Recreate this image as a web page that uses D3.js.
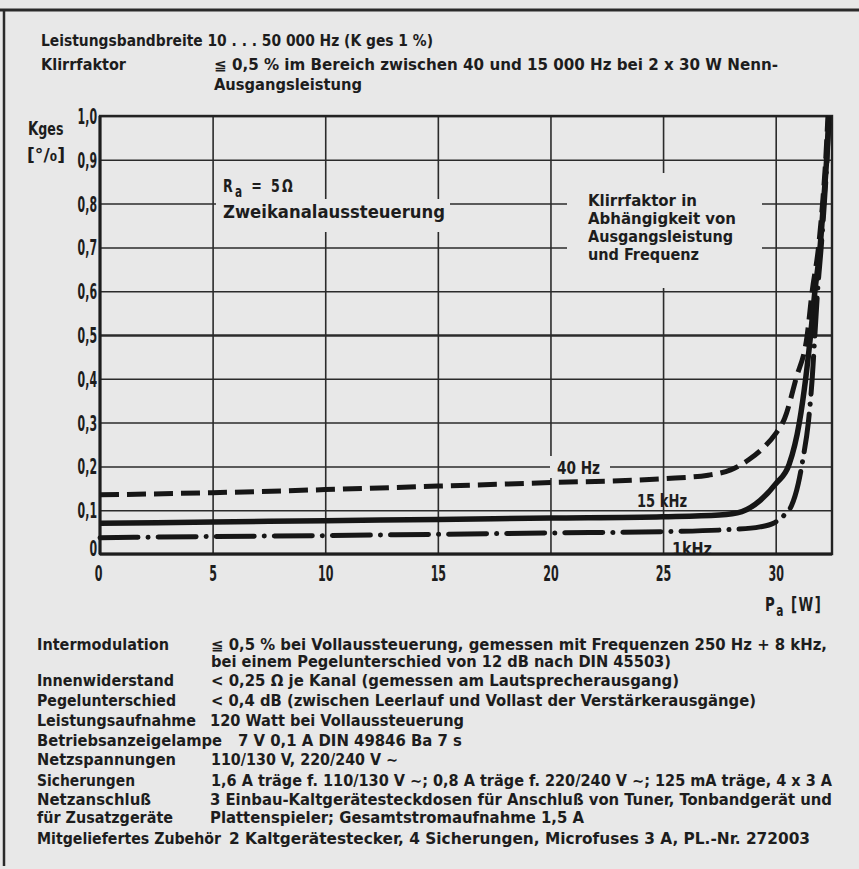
<!DOCTYPE html>
<html>
<head>
<meta charset="utf-8">
<script src="https://cdn.jsdelivr.net/npm/d3@7"></script>
<style>
  body { margin: 0; background: #e8e8e8; }
  svg { display: block; }
  text { font-family: "DejaVu Sans Condensed", "DejaVu Sans", "Roboto", sans-serif; fill: #1d1d1d; }
</style>
</head>
<body>
<div id="chart"></div>
<script>
// Values: x = Pa [W], y = Kges [%]
const powerTicks = [0, 5, 10, 15, 20, 25, 30];
const kgesTicks = [0, 0.1, 0.2, 0.3, 0.4, 0.5, 0.6, 0.7, 0.8, 0.9, 1.0];

const curve40Hz = [
    [0, 0.135], [5, 0.14], [10, 0.147], [15, 0.155], [20, 0.163], [25, 0.172],
    [27, 0.18], [28, 0.192], [28.8, 0.215], [29.5, 0.245], [30, 0.275], [30.4, 0.31],
    [30.9, 0.4], [31.4, 0.5], [31.62, 0.6], [31.9, 0.7], [32.08, 0.8], [32.22, 0.9], [32.32, 1.0]
];
const curve15kHz = [
    [0, 0.07], [5, 0.073], [10, 0.076], [15, 0.079], [20, 0.082], [25, 0.085],
    [27.5, 0.089], [28.5, 0.097], [29.3, 0.122], [30.0, 0.16], [30.6, 0.205], [31.05, 0.3],
    [31.33, 0.4], [31.55, 0.5], [31.74, 0.6], [31.97, 0.7], [32.12, 0.8], [32.26, 0.9], [32.36, 1.0]
];
const curve1kHz = [
    [0, 0.037], [5, 0.04], [10, 0.042], [15, 0.045], [20, 0.048], [25, 0.051],
    [28, 0.056], [29.3, 0.062], [29.9, 0.07], [30.4, 0.09], [30.7, 0.11], [31.0, 0.16],
    [31.22, 0.22], [31.45, 0.3], [31.62, 0.4], [31.74, 0.5], [31.86, 0.6], [32.02, 0.7],
    [32.16, 0.8], [32.28, 0.9], [32.38, 1.0]
];
const curveNames = ['40 Hz', '15 kHz', '1kHz'];

const headLabels = ['Leistungsbandbreite 10 . . . 50 000 Hz (K ges 1 %)', 'Klirrfaktor', ''];
const headValues = ['', '≦ 0,5 % im Bereich zwischen 40 und 15 000 Hz bei 2 x 30 W Nenn-', 'Ausgangsleistung'];

const specLabels = [
    'Intermodulation', '', 'Innenwiderstand', 'Pegelunterschied', 'Leistungsaufnahme',
    'Betriebsanzeigelampe', 'Netzspannungen', 'Sicherungen', 'Netzanschluß',
    'für Zusatzgeräte', 'Mitgeliefertes Zubehör'
];
const specValues = [
    '≦ 0,5 % bei Vollaussteuerung, gemessen mit Frequenzen 250 Hz + 8 kHz,',
    'bei einem Pegelunterschied von 12 dB nach DIN 45503)',
    '< 0,25 Ω je Kanal (gemessen am Lautsprecherausgang)',
    '< 0,4 dB (zwischen Leerlauf und Vollast der Verstärkerausgänge)',
    '120 Watt bei Vollaussteuerung',
    '7 V 0,1 A DIN 49846 Ba 7 s',
    '110/130 V, 220/240 V ∼',
    '1,6 A träge f. 110/130 V ∼; 0,8 A träge f. 220/240 V ∼; 125 mA träge, 4 x 3 A',
    '3 Einbau-Kaltgerätesteckdosen für Anschluß von Tuner, Tonbandgerät und',
    'Plattenspieler; Gesamtstromaufnahme 1,5 A',
    '2 Kaltgerätestecker, 4 Sicherungen, Microfuses 3 A, PL.-Nr. 272003'
];

const rightNote = ['Klirrfaktor in', 'Abhängigkeit von', 'Ausgangsleistung', 'und Frequenz'];

// layout (baselines / widths measured on the scan)
const headLayout = [
    { y: 46, lw: 392, vx: 214, vw: 0 },
    { y: 70, lw: 85, vx: 214, vw: 564 },
    { y: 90, lw: 0, vx: 214, vw: 148 }
];
const specLayout = [
    { y: 650, lw: 132, vx: 211, vw: 616 },
    { y: 667, lw: 0, vx: 211, vw: 460 },
    { y: 686, lw: 137, vx: 211, vw: 468 },
    { y: 706, lw: 139, vx: 211, vw: 545 },
    { y: 726, lw: 159, vx: 210, vw: 254 },
    { y: 746, lw: 185, vx: 238, vw: 224 },
    { y: 765, lw: 139, vx: 211, vw: 187 },
    { y: 786, lw: 98, vx: 211, vw: 621 },
    { y: 805, lw: 114, vx: 210, vw: 622 },
    { y: 823, lw: 136, vx: 210, vw: 374 },
    { y: 844, lw: 184, vx: 229, vw: 581 }
];

const W = 859, H = 869;
const paper = '#e8e8e8';
const svg = d3.select('#chart').append('svg')
    .attr('width', W)
    .attr('height', H);

svg.append('rect').attr('width', W).attr('height', H).attr('fill', paper);

// page edges of the scan
svg.append('line').attr('x1', 0).attr('x2', W).attr('y1', 10).attr('y2', 10)
    .attr('stroke', '#2a2a2a').attr('stroke-width', 3);
svg.append('line').attr('x1', 4).attr('x2', 4).attr('y1', 10).attr('y2', 866)
    .attr('stroke', '#2a2a2a').attr('stroke-width', 2.5);

// text helper, squeezes a line to the measured width
function putText(g, str, x, y, size, len, weight) {
    const t = g.append('text')
        .attr('x', x)
        .attr('y', y)
        .style('font-size', size + 'px')
        .text(str);
    if (weight) t.style('font-weight', weight);
    if (len) t.attr('textLength', len).attr('lengthAdjust', 'spacingAndGlyphs');
    return t;
}

// horizontal squeeze around the text's own x (for labels with tspans)
function squeeze(sel, f) {
    sel.each(function() {
        const x = +d3.select(this).attr('x') || 0;
        d3.select(this).attr('transform', `translate(${x},0) scale(${f},1) translate(${-x},0)`);
    });
}

const head = svg.append('g').style('font-weight', 'bold');
headLabels.forEach((s, i) => {
    const l = headLayout[i];
    if (s) putText(head, s, 41, l.y, 15, l.lw);
    if (headValues[i]) putText(head, headValues[i], l.vx, l.y, 15, l.vw);
});

const specs = svg.append('g').style('font-weight', 'bold');
specLabels.forEach((s, i) => {
    const l = specLayout[i];
    if (s) putText(specs, s, 37, l.y, 15, l.lw);
    putText(specs, specValues[i], l.vx, l.y, 15, l.vw);
});

// Chart
const x0 = 100, x1 = 832, y0 = 554, y1 = 116;
const xScale = d3.scaleLinear().domain([0, 32.5]).range([x0, x1]);
const yScale = d3.scaleLinear().domain([0, 1]).range([y0, y1]);

const chart = svg.append('g');

// horizontal grid
chart.append('g')
    .attr('transform', `translate(${x0},0)`)
    .call(d3.axisLeft(yScale).tickValues(kgesTicks).tickSize(-(x1 - x0)).tickFormat(''))
    .call(g => g.select('.domain').remove())
    .selectAll('line')
    .attr('stroke', '#2b2b2b')
    .attr('stroke-width', d => d === 0.5 ? 2.6 : 1.5);

// vertical grid
chart.append('g')
    .attr('transform', `translate(0,${y0})`)
    .call(d3.axisBottom(xScale).tickValues(powerTicks.filter(d => d > 0)).tickSize(-(y0 - y1)).tickFormat(''))
    .call(g => g.select('.domain').remove())
    .selectAll('line')
    .attr('stroke', '#2b2b2b')
    .attr('stroke-width', 1.6);

// frame
chart.append('rect')
    .attr('x', x0).attr('y', y1)
    .attr('width', x1 - x0).attr('height', y0 - y1)
    .attr('fill', 'none')
    .attr('stroke', '#222')
    .attr('stroke-width', 2.4);
chart.append('line').attr('x1', x0).attr('x2', x1).attr('y1', y0).attr('y2', y0)
    .attr('stroke', '#1d1d1d').attr('stroke-width', 3.2);
chart.append('line').attr('x1', x0).attr('x2', x0).attr('y1', y1).attr('y2', y0)
    .attr('stroke', '#1d1d1d').attr('stroke-width', 3);

// tick labels
const commaFmt = d => d === 0 ? '0' : d3.format('.1f')(d).replace('.', ',');
chart.append('g')
    .attr('transform', `translate(${x0},0)`)
    .call(d3.axisLeft(yScale).tickValues(kgesTicks).tickSize(0).tickPadding(3).tickFormat(commaFmt))
    .call(g => g.attr('font-family', null).attr('font-size', null))
    .call(g => g.select('.domain').remove())
    .selectAll('text')
    .attr('fill', '#1d1d1d')
    .attr('dy', d => d === 0 ? '0.05em' : '0.36em')
    .style('font-size', '21px')
    .style('font-weight', 'bold')
    .call(squeeze, 0.58);

chart.append('g')
    .attr('transform', `translate(0,${y0})`)
    .call(d3.axisBottom(xScale).tickValues(powerTicks).tickSize(0).tickPadding(11).tickFormat(d => d))
    .call(g => g.attr('font-family', null).attr('font-size', null))
    .call(g => g.select('.domain').remove())
    .selectAll('text')
    .attr('fill', '#1d1d1d')
    .attr('dx', d => d === 0 ? '-0.15em' : '0')
    .style('font-size', '22px')
    .style('font-weight', 'bold')
    .call(squeeze, 0.56);

// axis titles
const kges = chart.append('text').attr('x', 28).attr('y', 135).style('font-size', '18px').style('font-weight', 'bold');
kges.append('tspan').text('K').style('font-size', '19px');
kges.append('tspan').text('ges');
squeeze(kges, 0.78);
chart.append('text').attr('x', 27).attr('y', 161).style('font-size', '18px').style('font-weight', 'bold')
    .attr('textLength', 38).attr('lengthAdjust', 'spacingAndGlyphs')
    .text('[°/₀]');

const pa = chart.append('text').attr('x', 765).attr('y', 611).style('font-size', '20px').style('font-weight', 'bold').attr('letter-spacing', 2);
pa.append('tspan').text('P');
pa.append('tspan').text('a').attr('dy', 5).style('font-size', '16px');
pa.append('tspan').text(' [W]').attr('dy', -5);
squeeze(pa, 0.74);

// labels inside the plot, with paper knock-outs behind them like on the scan
const labels = chart.append('g');

function knockout(box) {
    labels.insert('rect', ':first-child')
        .attr('x', box[0]).attr('y', box[1])
        .attr('width', box[2] - box[0]).attr('height', box[3] - box[1])
        .attr('fill', paper);
}

const ra = labels.append('text').attr('x', 223).attr('y', 192).style('font-size', '18px').style('font-weight', 'bold').attr('letter-spacing', 3);
ra.append('tspan').text('R');
ra.append('tspan').text('a').attr('dy', 5).style('font-size', '15px');
ra.append('tspan').text(' = 5Ω').attr('dy', -5);
squeeze(ra, 0.78);
knockout([216, 174, 302, 199]);
putText(labels, 'Zweikanalaussteuerung', 223, 218, 18, 222, 'bold');
knockout([216, 199, 450, 232]);

rightNote.forEach((s, i) => {
    putText(labels, s, 588, 206 + i * 18, 16, [109, 148, 145, 111][i], 'bold');
});
knockout([567, 173, 762, 288]);

putText(labels, curveNames[0], 557, 474, 18, 43, 'bold');
knockout([550, 456, 610, 478]);
putText(labels, curveNames[1], 637, 507, 18, 50, 'bold');
putText(labels, curveNames[2], 672, 555, 18, 40, 'bold');

// curves
const line = d3.line()
    .x(d => xScale(d[0]))
    .y(d => yScale(d[1]))
    .curve(d3.curveMonotoneX);

const curves = chart.append('g').attr('fill', 'none').attr('stroke', '#161616');

curves.append('path')
    .datum(curve40Hz)
    .attr('d', line)
    .attr('stroke-width', 5)
    .attr('stroke-dasharray', '19 8');

curves.append('path')
    .datum(curve15kHz)
    .attr('d', line)
    .attr('stroke-width', 5.5);

curves.append('path')
    .datum(curve1kHz)
    .attr('d', line)
    .attr('stroke-width', 5)
    .attr('stroke-linecap', 'round')
    .attr('stroke-dasharray', '38 10 0.1 10');
</script>
</body>
</html>
